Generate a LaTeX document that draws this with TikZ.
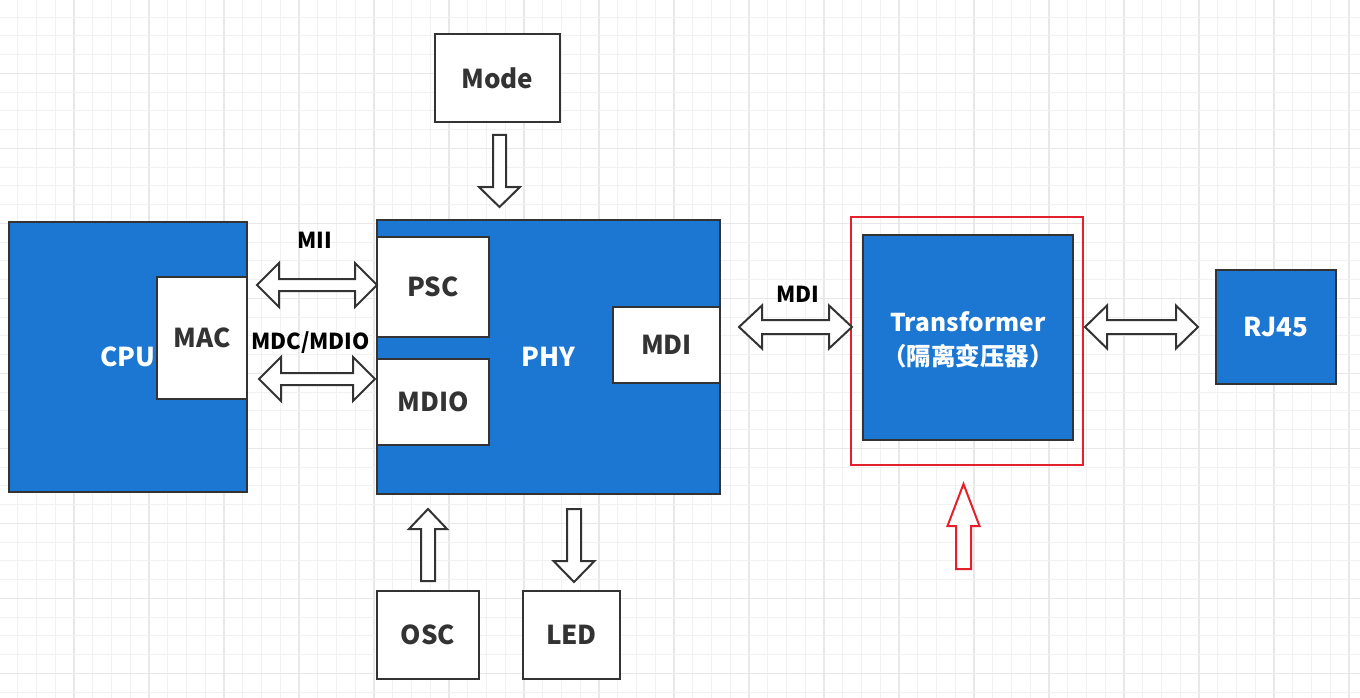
\documentclass[tikz,border=0pt]{standalone}
\usepackage{fontspec}
\setmainfont{Noto Sans CJK SC}
\definecolor{bluef}{HTML}{1B77D2}
\definecolor{bd}{HTML}{333333}
\definecolor{gminor}{HTML}{F1F1F1}
\definecolor{gmajor}{HTML}{E8E8E8}
\definecolor{redl}{HTML}{E3202B}
\tikzset{
  blk/.style={draw=bd, line width=2.2pt, inner sep=0pt, align=center},
  bluebox/.style={blk, fill=bluef, text=white, font=\bfseries\fontsize{26}{30}\selectfont},
  whitebox/.style={blk, fill=white, text=bd, font=\bfseries\fontsize{26}{30}\selectfont},
  lbl/.style={text=black, font=\bfseries\fontsize{22}{26}\selectfont, inner sep=0pt},
  barrow/.style={draw=bd, fill=white, line width=2pt, line join=miter},
  rarrow/.style={draw=redl, fill=white, line width=2pt, line join=miter}
}
\newcommand{\dblH}[7]{% style, x1, x2, y, headlen, headhalf, shafthalf
  \draw[#1] (#2,#4) -- ({#2+#5},{#4-#6}) -- ({#2+#5},{#4-#7}) -- ({#3-#5},{#4-#7}) -- ({#3-#5},{#4-#6}) -- (#3,#4) -- ({#3-#5},{#4+#6}) -- ({#3-#5},{#4+#7}) -- ({#2+#5},{#4+#7}) -- ({#2+#5},{#4+#6}) -- cycle;}
\newcommand{\vArrow}[7]{% style, x, ytail, ytip, headlen, headhalf, shafthalf  (works up or down)
  \draw[#1] ({#2-#7},#3) -- ({#2+#7},#3) -- ({#2+#7},{#4-(#5)*sign(#4-#3)}) -- ({#2+#6},{#4-(#5)*sign(#4-#3)}) -- (#2,#4) -- ({#2-#6},{#4-(#5)*sign(#4-#3)}) -- ({#2-#7},{#4-(#5)*sign(#4-#3)}) -- cycle;}
\begin{document}
\begin{tikzpicture}[x=1pt,y=-1pt]
\useasboundingbox (0,0) rectangle (1360,698);
\fill[white] (0,0) rectangle (1360,698);
% grid
\foreach \i in {0,...,73}{
  \pgfmathsetmacro{\gx}{-1+18.75*\i}
  \pgfmathtruncatemacro{\m}{mod(\i,4)}
  \ifnum\m=0 \draw[gmajor, line width=1.2pt] (\gx,0) -- (\gx,698);
  \else \draw[gminor, line width=1pt] (\gx,0) -- (\gx,698); \fi
}
\foreach \j in {0,...,38}{
  \pgfmathsetmacro{\gy}{-1.7+18.75*\j}
  \pgfmathtruncatemacro{\m}{mod(\j,4)}
  \ifnum\m=0 \draw[gmajor, line width=1.2pt] (0,\gy) -- (1360,\gy);
  \else \draw[gminor, line width=1pt] (0,\gy) -- (1360,\gy); \fi
}
% boxes
\node[bluebox, minimum width=238pt, minimum height=270pt] (cpu) at (128,357) {CPU};
\node[whitebox, minimum width=90pt, minimum height=122pt] (mac) at (202,338) {MAC};
\node[bluebox, minimum width=343pt, minimum height=274pt] (phy) at (548.5,357) {PHY};
\node[whitebox, minimum width=112pt, minimum height=100pt] (psc) at (433,287) {PSC};
\node[whitebox, minimum width=112pt, minimum height=86pt] (mdio) at (433,402) {MDIO};
\node[whitebox, minimum width=107pt, minimum height=76pt] (mdi) at (666.5,345) {MDI};
\node[whitebox, minimum width=125pt, minimum height=88pt] (mode) at (497.5,78) {Mode};
\node[whitebox, minimum width=102pt, minimum height=88pt] (osc) at (428,635) {OSC};
\node[whitebox, minimum width=97pt, minimum height=88pt] (led) at (571.5,635) {LED};
\node[draw=redl, line width=1.5pt, minimum width=232pt, minimum height=248pt, inner sep=0pt] (trframe) at (967,341) {};
\node[bluebox, minimum width=210pt, minimum height=205pt] (tr) at (968,337.5) {};
\node[text=white, font=\bfseries\fontsize{24.5}{34}\selectfont, align=center, inner sep=0pt] (trtext) at (968,340) {Transformer\\（隔离变压器）};
\node[bluebox, minimum width=120pt, minimum height=114pt] (rj) at (1276,327) {RJ45};
% labels
\node[lbl] (lmii) at (314.5,240) {MII};
\node[lbl] (lmdc) at (310.5,343) {MDC/MDIO};
\node[lbl] (lmdi) at (798,294) {MDI};
% block arrows
\dblH{barrow}{257}{377}{285}{22}{22}{6}
\dblH{barrow}{259}{375}{379}{22}{22}{6}
\dblH{barrow}{739}{852}{327}{23}{21.5}{7}
\dblH{barrow}{1085}{1198}{327}{22}{21.5}{7}
\vArrow{barrow}{499.5}{135}{207}{20}{20.5}{6.5}
\vArrow{barrow}{574}{509}{582}{21}{20.5}{7}
\vArrow{barrow}{428}{581}{509}{20}{19}{7}
\vArrow{rarrow}{963.5}{569}{484}{42}{16}{7.5}
\end{tikzpicture}
\end{document}
